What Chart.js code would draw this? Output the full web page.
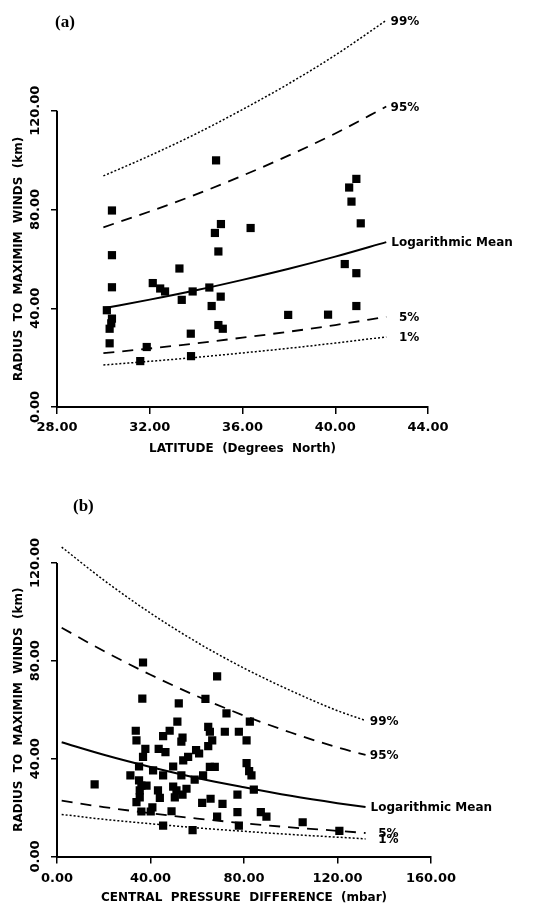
<!DOCTYPE html>
<html>
<head>
<meta charset="utf-8">
<script src="https://cdn.jsdelivr.net/npm/chart.js@4"></script>
<style>
body{margin:0;background:#fff;}
#wrap{position:relative;width:557px;height:906px;}
canvas{position:absolute;left:0;}
#chartA{top:0;}
#chartB{top:470px;}
</style>
</head>
<body>
<div id="wrap">
<canvas id="chartA" width="557" height="470"></canvas>
<canvas id="chartB" width="557" height="436"></canvas>
</div>
<script>
// (a) radius vs latitude
const latA=[34.86,40.60,40.91,40.70,30.37,30.37,30.37,30.15,30.37,30.34,30.27,30.27,31.87,31.59,32.13,32.45,32.66,33.28,33.38,33.85,33.77,33.78,34.57,34.67,34.81,35.07,34.96,35.06,34.96,35.15,36.35,37.97,39.69,40.41,40.91,40.91,41.10];
const rmwA=[99.9,88.9,92.4,83.2,79.6,61.5,48.5,39.2,35.8,33.9,31.7,25.8,24.3,18.6,50.2,48.0,46.8,56.1,43.4,46.8,29.7,20.6,48.4,40.9,70.5,74.1,63.0,44.7,33.2,31.7,72.5,37.3,37.4,57.9,54.2,40.9,74.4];
const latCurve=[30,32,34,36,38,40,42.2];
const meanA=[40.0,43.5,47.3,51.5,56.0,60.9,66.8];
const p99A=[93.6,101.8,110.7,120.5,131.0,142.5,156.6];
const p95A=[72.8,79.2,86.1,93.7,101.9,110.8,121.7];
const p5A=[21.8,23.7,25.8,28.1,30.5,33.2,36.5];
const p1A=[17.0,18.5,20.1,21.9,23.8,25.9,28.4];
const latTicks=[28,32,36,40,44];

// (b) radius vs central pressure difference
const dpPts=[36.8,68.5,36.5,52.1,63.5,72.5,82.5,51.5,33.7,34.0,37.8,36.8,43.5,46.4,45.4,48.2,53.7,53.2,64.7,65.4,66.4,64.7,60.8,59.5,56.1,54.0,71.8,77.8,81.1,81.1,82.2,83.2,84.2,35.1,31.4,41.1,45.4,49.7,53.2,58.9,62.5,65.4,67.5,16.1,35.1,36.1,38.3,35.4,43.2,49.7,51.1,55.4,53.7,34.0,35.4,44.0,50.4,65.7,62.1,70.8,77.2,40.8,36.1,40.1,49.0,68.5,77.2,87.2,89.6,45.4,58.0,77.8,105.1,120.8];
const rmwB=[79.3,73.6,64.5,62.6,64.4,58.5,55.1,55.1,51.4,47.5,44.0,40.7,44.0,42.7,49.2,51.4,48.6,47.0,53.0,51.0,47.5,45.1,42.1,43.5,40.7,39.3,51.0,51.0,47.5,38.2,34.9,33.2,27.3,36.8,33.2,35.2,33.2,36.8,33.2,31.4,33.2,36.6,36.6,29.5,31.1,29.0,29.0,27.0,27.0,28.6,27.0,27.7,25.3,22.2,24.2,24.0,24.2,23.6,21.9,21.5,25.3,20.1,18.4,18.4,18.5,16.3,18.1,18.1,16.3,12.6,10.8,12.6,14.0,10.5];
const dpCurve=[2,20,40,60,80,100,120,132];
const meanB=[46.7,41.6,36.6,32.1,28.3,24.8,21.8,20.2];
const p99B=[126.5,113.0,99.5,87.5,77.0,67.8,59.6,55.6];
const p95B=[93.5,84.0,74.3,65.5,57.6,50.7,44.6,41.5];
const p5B=[22.8,20.2,17.7,15.5,13.6,11.9,10.5,9.6];
const p1B=[17.2,15.2,13.4,11.7,10.3,9.0,7.9,7.2];
const dpTicks=[0,40,80,120,160];

const yTicks=[0,40,80,120];
const yTitle='RADIUS  TO  MAXIMIM  WINDS  (km)';
const FONT='"DejaVu Sans", sans-serif';

const pairs=(xs,ys)=>xs.map((x,i)=>({x:x,y:ys[i]}));

function curve(label,xs,ys,dash,width)
{
return{
label:label,
data:pairs(xs,ys),
showLine:true,
borderColor:'#000',
borderWidth:width,
borderDash:dash,
pointRadius:0,
cubicInterpolationMode:'monotone',
fill:false
};
}

function deco(opt)
{
return{
id:'deco',
afterDraw(chart)
{
const ctx=chart.ctx;
const ys=chart.scales.y;
const left=chart.chartArea.left;
ctx.save();
ctx.strokeStyle='#000';
ctx.lineWidth=2;
ctx.beginPath();
ctx.moveTo(left,ys.getPixelForValue(0)+1);
ctx.lineTo(left,ys.getPixelForValue(120));
ctx.stroke();

ctx.fillStyle='#000';
ctx.textAlign='center';
ctx.textBaseline='middle';
ctx.font='bold 13px '+FONT;
yTicks.forEach(v=>
{
ctx.save();
ctx.translate(opt.tickX,ys.getPixelForValue(v));
ctx.rotate(-Math.PI/2);
ctx.fillText(v.toFixed(2),0,0);
ctx.restore();
});

ctx.font='bold 12px '+FONT;
const mid=(ys.getPixelForValue(0)+ys.getPixelForValue(120))/2;
ctx.save();
ctx.translate(opt.titleX,mid);
ctx.rotate(-Math.PI/2);
ctx.fillText(yTitle,0,0);
ctx.restore();

ctx.textAlign='left';
ctx.font='bold 17px "Liberation Serif", serif';
ctx.fillText(opt.panel,opt.panelX,opt.panelY);

ctx.font='bold 12px '+FONT;
chart.data.datasets.forEach((ds,i)=>
{
if(!ds.label) return;
const pts=chart.getDatasetMeta(i).data;
const p=pts[pts.length-1];
if(ds.label==='Logarithmic Mean')
{
ctx.textAlign='left';
ctx.fillText(ds.label,p.x+5,p.y+1);
}
else
{
ctx.textAlign='right';
ctx.fillText(ds.label,p.x+33,p.y+1);
}
});
ctx.restore();
}
};
}

function makeChart(id,o)
{
return new Chart(document.getElementById(id),
{
type:'scatter',
data:{
datasets:[
{
label:'',
data:pairs(o.px,o.py),
pointStyle:'rect',
pointRadius:5.8,
backgroundColor:'#000',
borderWidth:0
},
curve('99%',o.cx,o.c99,[2,2],1.5),
curve('95%',o.cx,o.c95,[11,8],1.8),
curve('Logarithmic Mean',o.cx,o.cm,[],2),
curve('5%',o.cx,o.c5,[11,8],1.8),
curve('1%',o.cx,o.c1,[2,2],1.5)
]
},
options:{
responsive:false,
animation:false,
events:[],
layout:{padding:o.pad},
plugins:{legend:{display:false},tooltip:{enabled:false}},
scales:{
x:{
type:'linear',
min:o.xTicks[0],
max:o.xTicks[o.xTicks.length-1],
afterBuildTicks:s=>{s.ticks=o.xTicks.map(v=>({value:v}));},
afterFit:s=>{s.height=o.xh;},
ticks:{
color:'#000',
font:{family:FONT,size:13,weight:'bold'},
padding:o.tickPad,
maxRotation:0,
callback:v=>v.toFixed(2)
},
grid:{drawOnChartArea:false,tickLength:7,color:'#000',lineWidth:1.5},
border:{color:'#000',width:2},
title:{
display:true,
text:o.xTitle,
color:'#000',
font:{family:FONT,size:12,weight:'bold'},
padding:{top:0,bottom:o.titlePad}
}
},
y:{
type:'linear',
min:0,
max:o.yMax,
afterBuildTicks:s=>{s.ticks=yTicks.map(v=>({value:v}));},
afterFit:s=>{s.width=57;},
ticks:{display:false},
grid:{drawOnChartArea:false,tickLength:6,color:'#000',lineWidth:1.5},
border:{display:false}
}
}
},
plugins:[deco(o.deco)]
});
}

makeChart('chartA',
{
px:latA,py:rmwA,
cx:latCurve,cm:meanA,c99:p99A,c95:p95A,c5:p5A,c1:p1A,
xTicks:latTicks,
xTitle:'LATITUDE  (Degrees  North)',
yMax:160,
pad:{left:0,right:129,top:12,bottom:0},
xh:63,
tickPad:6,
titlePad:14,
deco:{tickX:36,titleX:19,panel:'(a)',panelX:55,panelY:23}
});

makeChart('chartB',
{
px:dpPts,py:rmwB,
cx:dpCurve,cm:meanB,c99:p99B,c95:p95B,c5:p5B,c1:p1B,
xTicks:dpTicks,
xTitle:'CENTRAL  PRESSURE  DIFFERENCE  (mbar)',
yMax:130,
pad:{left:0,right:126,top:68.5,bottom:0},
xh:49.5,
tickPad:7,
titlePad:1,
deco:{tickX:36,titleX:19,panel:'(b)',panelX:73,panelY:37}
});
</script>
</body>
</html>
